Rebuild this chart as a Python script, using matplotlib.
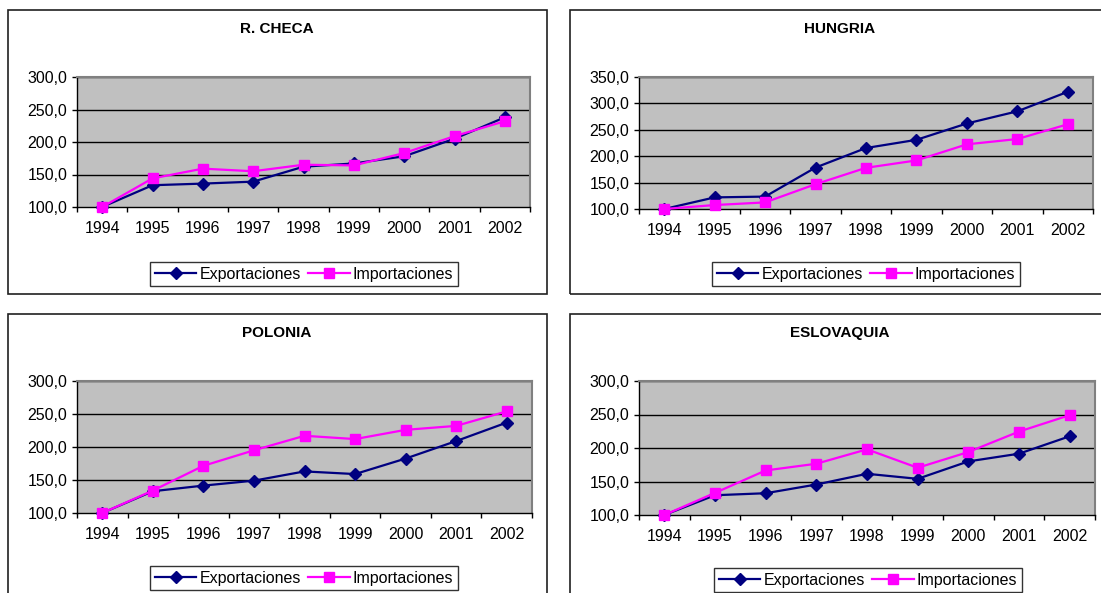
import matplotlib
matplotlib.use("Agg")
import matplotlib.pyplot as plt
from matplotlib.patches import Rectangle
from matplotlib.ticker import FuncFormatter, FixedLocator

plt.rcParams['font.family'] = ['Liberation Sans', 'DejaVu Sans']

years = ['1994', '1995', '1996', '1997', '1998', '1999', '2000', '2001', '2002']

checa_exp = [100.0, 133.5, 136.0, 139.0, 162.0, 167.0, 178.0, 205.0, 238.0]
checa_imp = [100.0, 144.0, 159.0, 155.0, 165.0, 164.0, 183.0, 209.0, 232.0]

hungria_exp = [100.0, 122.0, 123.5, 178.5, 215.5, 231.0, 262.0, 285.0, 322.0]
hungria_imp = [100.0, 107.5, 112.5, 147.0, 178.0, 192.0, 222.5, 232.5, 260.5]

polonia_exp = [100.0, 133.0, 141.5, 149.0, 163.0, 159.0, 182.5, 209.0, 237.0]
polonia_imp = [100.0, 134.0, 171.5, 195.0, 217.0, 212.0, 226.0, 232.0, 254.0]

eslovaquia_exp = [100.0, 129.5, 132.5, 145.5, 161.5, 154.0, 180.0, 191.5, 217.5]
eslovaquia_imp = [100.0, 133.0, 166.5, 176.5, 198.0, 170.5, 194.0, 224.5, 249.0]

titles = ['R. CHECA', 'HUNGRIA', 'POLONIA', 'ESLOVAQUIA']
y_max = [300, 350, 300, 300]
series = [(checa_exp, checa_imp), (hungria_exp, hungria_imp),
          (polonia_exp, polonia_imp), (eslovaquia_exp, eslovaquia_imp)]

W, H = 1101, 593
fig = plt.figure(figsize=(W / 100, H / 100), dpi=100)
fig.patch.set_facecolor('white')


def fx(px):
    return px / W


def fy(py):
    return 1 - py / H


# chart frames (left, top, right, bottom) in pixels
frames = [(8, 10, 547, 294), (570, 10, 1110, 294),
          (8, 314, 547, 610), (570, 314, 1110, 610)]
# plot areas
areas = [(77, 77, 530, 207), (639, 77, 1093, 209),
         (77, 381, 532, 513), (639, 381, 1095, 515)]
title_pos = [(277, 29), (840, 29), (277, 333), (840, 333)]
legend_pos = [(304, 274), (866, 274), (304, 578), (868, 580)]

for (l, t, r, b) in frames:
    fig.patches.append(Rectangle((fx(l), fy(b)), fx(r - l), (b - t) / H,
                                 transform=fig.transFigure, fill=False,
                                 edgecolor='#202020', linewidth=1.2, zorder=0))

fmt = FuncFormatter(lambda v, p: f"{v:.1f}".replace('.', ','))

for i in range(4):
    l, t, r, b = areas[i]
    ax = fig.add_axes([fx(l), fy(b), fx(r - l), (b - t) / H])
    ax.set_facecolor('#C0C0C0')
    exp_vals, imp_vals = series[i]
    x = list(range(len(years)))
    ax.plot(x, exp_vals, color='#000080', marker='D', markersize=6.5,
            linewidth=1.6, label='Exportaciones', clip_on=False, zorder=3)
    ax.plot(x, imp_vals, color='#FF00FF', marker='s', markersize=7.5,
            linewidth=1.6, label='Importaciones', clip_on=False, zorder=3)
    ax.set_xlim(-0.5, 8.5)
    ax.set_ylim(100, y_max[i])
    yt = list(range(100, y_max[i] + 1, 50))
    ax.set_yticks(yt)
    ax.yaxis.set_major_formatter(fmt)
    for v in yt[1:]:
        ax.axhline(v, color='black', linewidth=1.0, zorder=1)
    ax.set_xticks(x)
    ax.set_xticklabels(years)
    ax.xaxis.set_minor_locator(FixedLocator([k - 0.5 for k in range(10)]))
    ax.tick_params(axis='x', which='major', length=0, pad=10, labelsize=11.5)
    ax.tick_params(axis='x', which='minor', length=3.5, width=1, direction='out')
    ax.tick_params(axis='y', which='major', length=3.5, width=1, pad=3.5,
                   labelsize=11.5)
    for side in ('top', 'right'):
        ax.spines[side].set_color('#808080')
        ax.spines[side].set_linewidth(1.5)
    for side in ('left', 'bottom'):
        ax.spines[side].set_color('black')
        ax.spines[side].set_linewidth(1.0)

    fig.text(fx(title_pos[i][0]), fy(title_pos[i][1]), titles[i],
             ha='center', va='center', fontsize=11, fontweight='bold')

    leg = ax.legend(loc='center', ncol=2,
                    bbox_to_anchor=(fx(legend_pos[i][0]), fy(legend_pos[i][1])),
                    bbox_transform=fig.transFigure, fontsize=11.5,
                    frameon=True, fancybox=False, edgecolor='black',
                    handlelength=2.6, handletextpad=0.2, columnspacing=0.45,
                    borderpad=0.28, borderaxespad=0)
    leg.get_frame().set_linewidth(1.0)

fig.savefig('out.png', dpi=100)
